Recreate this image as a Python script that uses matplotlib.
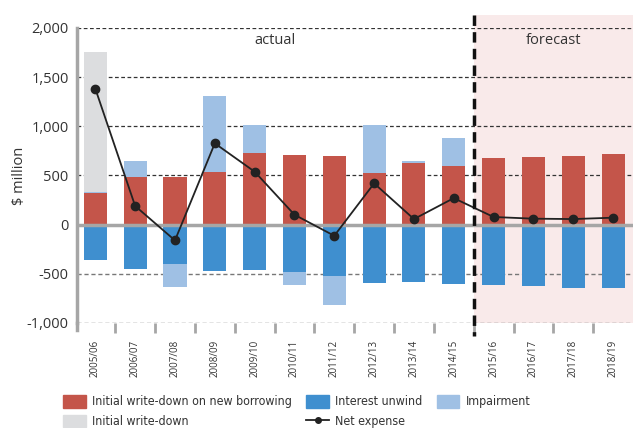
import matplotlib.pyplot as plt
from matplotlib.patches import Patch, Rectangle
from matplotlib.lines import Line2D
from matplotlib.font_manager import FontProperties
import numpy as np

years = ["2005/06", "2006/07", "2007/08", "2008/09", "2009/10", "2010/11", "2011/12",
         "2012/13", "2013/14", "2014/15", "2015/16", "2016/17", "2017/18", "2018/19"]
write_down_new = [318, 481, 481, 532, 725, 705, 694, 522, 624, 593, 674, 684, 694, 715]
impairment = [14, 163, -234, 773, 285, -129, -293, 488, 20, 287, 0, 0, 0, 0]
interest_unwind = [-360, -455, -404, -472, -462, -485, -527, -598, -588, -608, -618, -628, -648, -648]
initial_write_down = [1421, 0, 0, 0, 0, 0, 0, 0, 0, 0, 0, 0, 0, 0]
net_expense = [1383, 190, -160, 827, 539, 101, -113, 420, 57, 270, 78, 61, 57, 71]

RED = "#c4554a"
BLUE = "#3f8fcf"
LBLUE = "#9fc0e4"
GREY = "#dcdddf"
PINK = "#f9eaea"

plt.rcParams['font.family'] = ['Open Sans', 'DejaVu Sans']
leg_font = FontProperties(family='DejaVu Sans', stretch='condensed', size=8.9)

fig = plt.figure(figsize=(6.33, 4.28), dpi=100)
ax = fig.add_axes([77 / 633, 105 / 428, 556 / 633, 295 / 428])

x = np.arange(len(years))
w = 0.58
imp = np.array(impairment)
imp_pos = np.where(imp > 0, imp, 0)
imp_neg = np.where(imp < 0, imp, 0)
wd = np.array(write_down_new)
iu = np.array(interest_unwind)

ax.bar(x, wd, w, color=RED, zorder=3)
ax.bar(x, imp_pos, w, bottom=wd, color=LBLUE, zorder=3)
ax.bar(x, initial_write_down, w, bottom=wd + imp_pos, color=GREY, zorder=3)
ax.bar(x, iu, w, color=BLUE, zorder=3)
ax.bar(x, imp_neg, w, bottom=iu, color=LBLUE, zorder=3)
ax.plot(x, net_expense, color="#222222", lw=1.3, marker="o", ms=6, zorder=5)

ax.set_xlim(-0.46, 13.5)
ax.set_ylim(-1000, 2000)

# forecast shading and divider
ax.add_patch(Rectangle((9.5, -1000), 4.0, 3130, facecolor=PINK, edgecolor="none",
                       zorder=0, clip_on=False))
ax.plot([9.5, 9.5], [2135, -1135], color="#111111", lw=2.5, ls=(0, (3, 1.8)),
        zorder=6, clip_on=False)

for v in [2000, 1500, 1000, 500]:
    ax.axhline(v, color="#333333", lw=0.9, ls=(0, (3, 2)), zorder=1)
for v in [-500, -1000]:
    ax.axhline(v, color="#777777", lw=1.0, ls=(0, (3, 2)), zorder=1)
ax.axhline(0, color="#a6a6a6", lw=2.5, zorder=4)

for s in ["top", "right", "bottom"]:
    ax.spines[s].set_visible(False)
ax.spines["left"].set_color("#a6a6a6")
ax.spines["left"].set_linewidth(2.5)
ax.plot([-0.46, -0.46], [-1000, -1075], color="#a6a6a6", lw=2.5, clip_on=False)

ax.set_yticks([-1000, -500, 0, 500, 1000, 1500, 2000])
ax.set_yticklabels(["-1,000", "-500", "0", "500", "1,000", "1,500", "2,000"],
                   fontsize=10.5, color="#333333")
ax.tick_params(axis="y", length=0, pad=6)

ax.set_xticks(x)
ax.set_xticklabels(years, rotation=90, fontsize=7, color="#333333")
ax.set_xticks(np.arange(0.5, 13.5, 1), minor=True)
ax.tick_params(axis="x", which="major", length=0, pad=12)
ax.tick_params(axis="x", which="minor", length=7, width=2, color="#a6a6a6", direction="out")

ax.set_ylabel("$ million", fontsize=10.5, color="#333333", labelpad=0)

ax.text(4.5, 1870, "actual", ha="center", va="center", fontsize=10.5, color="#333333")
ax.text(11.5, 1870, "forecast", ha="center", va="center", fontsize=10.5, color="#333333")

handles = [
    Patch(color=RED, label="Initial write-down on new borrowing"),
    Patch(color=GREY, label="Initial write-down"),
    Patch(color=BLUE, label="Interest unwind"),
    Line2D([0], [0], color="#222222", marker="o", ms=4, lw=1.3, label="Net expense"),
    Patch(color=LBLUE, label="Impairment"),
]
leg = fig.legend(handles=handles, loc="upper left", bbox_to_anchor=(58 / 633, 1 - 390 / 428),
                 ncol=3, frameon=False, prop=leg_font,
                 handlelength=1.85, handleheight=1.2,
                 columnspacing=1.15, labelspacing=0.5, handletextpad=0.5, borderaxespad=0)
for t in leg.get_texts():
    t.set_color("#333333")

fig.savefig("out.png", dpi=100)
